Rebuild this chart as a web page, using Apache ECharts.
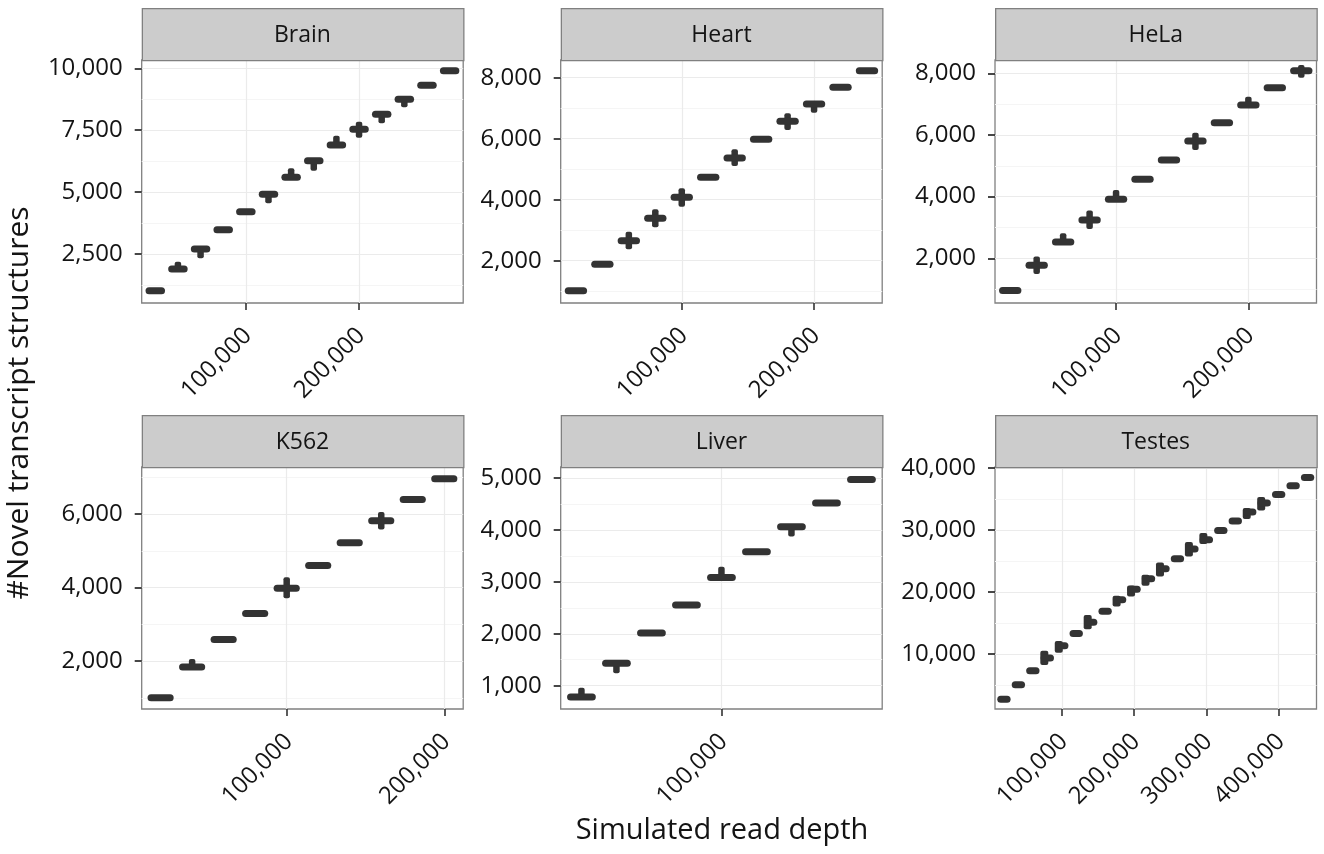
<!DOCTYPE html>
<html>
<head>
<meta charset="utf-8">
<script src="https://cdn.jsdelivr.net/npm/echarts@6/dist/echarts.min.js"></script>
<style>
  html, body { margin: 0; padding: 0; background: #ffffff; }
  #chart { width: 1324px; height: 854px; }
</style>
</head>
<body>
<div id="chart"></div>
<script>
// Novel transcript structures found at each simulated read depth, per sample.
// Each box: median count; spread = [lowest, highest] of the outlying replicates (null when tight).

const brainDepth = [20000, 40000, 60000, 80000, 100000, 120000, 140000, 160000, 180000, 200000, 220000, 240000, 260000, 280000];
const brainMedian = [1017, 1894, 2701, 3481, 4208, 4911, 5597, 6268, 6902, 7536, 8142, 8748, 9313, 9903];
const brainSpread = [null, [1894, 2189], [2326, 2701], null, null, [4547, 4911], [5597, 5961], [5864, 6268], [6902, 7278], [7197, 7843], [7779, 8142], [8425, 8860], null, null];

const heartDepth = [20000, 40000, 60000, 80000, 100000, 120000, 140000, 160000, 180000, 200000, 220000, 240000];
const heartMedian = [1016, 1881, 2655, 3390, 4078, 4734, 5367, 5980, 6570, 7138, 7685, 8230];
const heartSpread = [null, null, [2373, 2950], [3094, 3685], [3770, 4373], null, [5105, 5652], null, [6285, 6833], [6852, 7138], null, null];

const helaDepth = [20000, 40000, 60000, 80000, 100000, 120000, 140000, 160000, 180000, 200000, 220000, 240000];
const helaMedian = [954, 1777, 2532, 3246, 3916, 4564, 5190, 5806, 6399, 6973, 7533, 8084];
const helaSpread = [null, [1495, 2056], [2532, 2814], [2954, 3547], [3916, 4218], null, null, [5514, 6075], null, [6973, 7242], null, [7857, 8269]];

const k562Depth = [20000, 40000, 60000, 80000, 100000, 120000, 140000, 160000, 180000, 200000];
const k562Median = [1010, 1845, 2588, 3295, 3986, 4601, 5219, 5818, 6397, 6960];
const k562Spread = [null, [1845, 2063], null, null, [3714, 4286], null, null, [5581, 6054], null, null];

const liverDepth = [20000, 40000, 60000, 80000, 100000, 120000, 140000, 160000, 180000];
const liverMedian = [781, 1431, 2016, 2556, 3083, 3578, 4061, 4518, 4973];
const liverSpread = [[781, 961], [1238, 1431], null, null, [3083, 3289], null, [3873, 4061], null, null];

const testesDepth = [20000, 40000, 60000, 80000, 100000, 120000, 140000, 160000, 180000, 200000, 220000,
                     240000, 260000, 280000, 300000, 320000, 340000, 360000, 380000, 400000, 420000, 440000];
const testesMedian = [2740, 5095, 7353, 9402, 11386, 13321, 15160, 16934, 18757, 20483, 22144,
                      23757, 25370, 26935, 28435, 29935, 31450, 32903, 34355, 35742, 37145, 38484];
const testesSpread = [null, null, null, [8272, 10578], [10256, 12144], null, [14030, 16337], null, [17676, 19402], [19290, 21063], [21015, 22789],
                      [22515, 24773], null, [25741, 28064], [27741, 29515], null, null, [31774, 33548], [33161, 35322], null, null, null];

// Axis breaks
const xTicksShort = [100000];
const xTicks2 = [100000, 200000];
const xTicks4 = [100000, 200000, 300000, 400000];
const brainYTicks = [2500, 5000, 7500, 10000];
const brainYMinor = [1250, 3750, 6250, 8750];
const heartYTicks = [2000, 4000, 6000, 8000];
const heartYMinor = [1000, 3000, 5000, 7000];
const helaYTicks = [2000, 4000, 6000, 8000];
const helaYMinor = [1000, 3000, 5000, 7000];
const k562YTicks = [2000, 4000, 6000];
const k562YMinor = [1000, 3000, 5000, 7000];
const liverYTicks = [1000, 2000, 3000, 4000, 5000];
const liverYMinor = [1500, 2500, 3500, 4500];
const testesYTicks = [10000, 20000, 30000, 40000];
const testesYMinor = [5000, 15000, 25000, 35000];

const STEP = 20000; // spacing between simulated depths

const panels = [
  { name: 'Brain',  depth: brainDepth,  median: brainMedian,  spread: brainSpread,  xTicks: xTicks2,     yTicks: brainYTicks,  yMinor: brainYMinor,  xRange: [8000, 292000],  yRange: [521, 10335] },
  { name: 'Heart',  depth: heartDepth,  median: heartMedian,  spread: heartSpread,  xTicks: xTicks2,     yTicks: heartYTicks,  yMinor: heartYMinor,  xRange: [8500, 251500],  yRange: [613, 8580] },
  { name: 'HeLa',   depth: helaDepth,   median: helaMedian,   spread: helaSpread,   xTicks: xTicks2,     yTicks: helaYTicks,   yMinor: helaYMinor,   xRange: [8500, 251500],  yRange: [551, 8431] },
  { name: 'K562',   depth: k562Depth,   median: k562Median,   spread: k562Spread,   xTicks: xTicks2,     yTicks: k562YTicks,   yMinor: k562YMinor,   xRange: [8000, 212000],  yRange: [702, 7279] },
  { name: 'Liver',  depth: liverDepth,  median: liverMedian,  spread: liverSpread,  xTicks: xTicksShort, yTicks: liverYTicks,  yMinor: liverYMinor,  xRange: [8150, 191850],  yRange: [551, 5212] },
  { name: 'Testes', depth: testesDepth, median: testesMedian, spread: testesSpread, xTicks: xTicks4,     yTicks: testesYTicks, yMinor: testesYMinor, xRange: [7650, 452350],  yRange: [1177, 40161] }
];

// Layout of the 3 x 2 facet grid
const colLeft = [141.7, 560.7, 995];
const panelW = 321.5;
const rowTop = [60, 467];
const panelH = [243, 242];
const stripH = 52;

const FONT = '"Open Sans", "Noto Sans", sans-serif';
const INK = '#333333';
const TEXT = '#141414';
const fmt = v => Math.round(v).toLocaleString('en-US');

const grids = [], xAxes = [], yAxes = [], series = [], graphics = [];

panels.forEach((p, i) => {
  const col = i % 3, row = Math.floor(i / 3);
  const left = colLeft[col], top = rowTop[row], h = panelH[row];

  grids.push({
    left: left, top: top, width: panelW, height: h,
    show: true, backgroundColor: '#ffffff', borderColor: '#808080', borderWidth: 1.3
  });

  xAxes.push({
    gridIndex: i, type: 'value', min: p.xRange[0], max: p.xRange[1],
    axisLine: { show: false },
    axisTick: { show: true, length: 7, customValues: p.xTicks, lineStyle: { color: INK, width: 1.6 } },
    axisLabel: {
      customValues: p.xTicks, rotate: 45, align: 'right', verticalAlign: 'top', margin: 14,
      padding: [0, 9, 0, 0],
      fontSize: 24, fontFamily: FONT, color: TEXT, formatter: fmt
    },
    splitLine: { show: true, lineStyle: { color: '#ebebeb', width: 1.2 } }
  });

  // major y axis with labels
  yAxes.push({
    gridIndex: i, type: 'value', position: 'left', min: p.yRange[0], max: p.yRange[1],
    axisLine: { show: false },
    axisTick: { show: true, length: 7, customValues: p.yTicks, lineStyle: { color: INK, width: 1.8 } },
    axisLabel: { customValues: p.yTicks, margin: 19, fontSize: 24, fontFamily: FONT, color: TEXT, formatter: fmt },
    splitLine: { show: true, lineStyle: { color: '#ebebeb', width: 1.2 } }
  });
  // minor horizontal grid lines
  yAxes.push({
    gridIndex: i, type: 'value', position: 'right', min: p.yRange[0], max: p.yRange[1],
    axisLine: { show: false },
    axisTick: { show: false, customValues: p.yMinor },
    axisLabel: { show: false, customValues: p.yMinor },
    splitLine: { show: true, lineStyle: { color: '#f5f5f5', width: 1 } }
  });

  const data = p.depth.map((d, k) => {
    const s = p.spread[k];
    return [d, p.median[k], s ? s[0] : p.median[k], s ? s[1] : p.median[k]];
  });

  const stubW = p.name === 'Testes' ? 8 : 6.5;
  const stubShift = p.name === 'Testes' ? -3 : 0;

  series.push({
    type: 'custom', name: p.name, xAxisIndex: i, yAxisIndex: 2 * i,
    clip: false, silent: true,
    encode: { x: 0, y: 1 },
    data: data,
    renderItem: function (params, api) {
      const x = api.value(0), med = api.value(1), lo = api.value(2), hi = api.value(3);
      const c = api.coord([x, med]);
      const bw = api.size([STEP, 0])[0] * 0.75 + 2.5;
      const children = [];
      if (hi > lo) {
        const yt = api.coord([x, hi])[1];
        const yb = api.coord([x, lo])[1];
        children.push({
          type: 'rect',
          shape: { x: c[0] - stubW / 2 + stubShift, y: yt, width: stubW, height: Math.max(yb - yt, 1), r: 2 },
          style: { fill: INK }
        });
      }
      children.push({
        type: 'rect',
        shape: { x: c[0] - bw / 2, y: c[1] - 3.5, width: bw, height: 7, r: 3.5 },
        style: { fill: INK }
      });
      return { type: 'group', children: children };
    }
  });

  // facet strip
  graphics.push({
    type: 'rect', left: left, top: top - stripH, z: 10,
    shape: { width: panelW, height: stripH },
    style: { fill: '#cccccc', stroke: '#808080', lineWidth: 1.3 }
  });
  graphics.push({
    type: 'text', x: left + panelW / 2, y: top - stripH / 2 + 1, z: 11,
    style: { text: p.name, fill: TEXT, font: '23px ' + FONT, textAlign: 'center', textVerticalAlign: 'middle' }
  });
});

// axis titles
graphics.push({
  type: 'text', x: 722, y: 831, z: 11,
  style: { text: 'Simulated read depth', fill: TEXT, font: '29px ' + FONT, textAlign: 'center', textVerticalAlign: 'middle' }
});
graphics.push({
  type: 'text', x: 19, y: 403, rotation: Math.PI / 2, z: 11,
  style: { text: '#Novel transcript structures', fill: TEXT, font: '30px ' + FONT, textAlign: 'center', textVerticalAlign: 'middle' }
});

const chart = echarts.init(document.getElementById('chart'), null, { renderer: 'canvas' });
chart.setOption({
  backgroundColor: '#ffffff',
  animation: false,
  grid: grids,
  xAxis: xAxes,
  yAxis: yAxes,
  series: series,
  graphic: graphics
});
</script>
</body>
</html>
